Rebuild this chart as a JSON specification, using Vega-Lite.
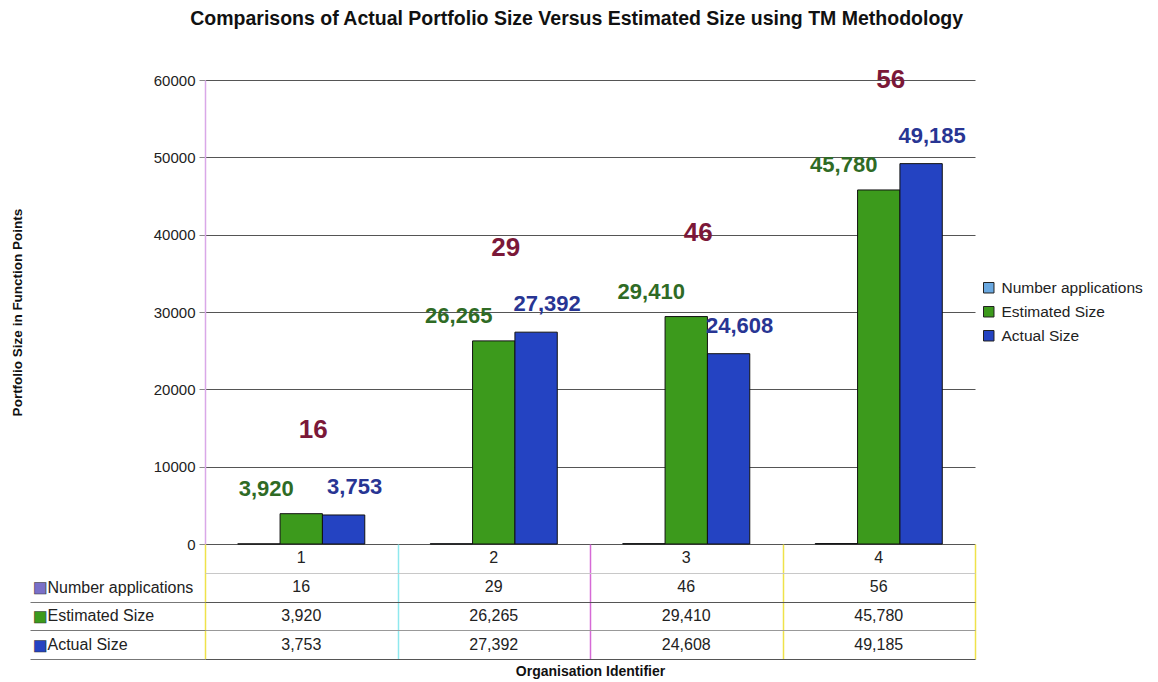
{
  "$schema": "https://vega.github.io/schema/vega-lite/v6.json",
  "background": "white",
  "padding": {"left": 10, "top": 9, "right": 5, "bottom": 2},
  "bounds": "flush",
  "title": {
    "text": "Comparisons of Actual Portfolio Size Versus Estimated Size using TM  Methodology",
    "font": "Liberation Sans Narrow, Liberation Sans",
    "fontSize": 19.5,
    "fontWeight": "bold",
    "color": "#111",
    "anchor": "middle",
    "offset": 37
  },
  "datasets": {
    "d": [
      {"org": "1", "series": "Number applications", "value": 16},
      {"org": "1", "series": "Estimated Size", "value": 3920},
      {"org": "1", "series": "Actual Size", "value": 3753},
      {"org": "2", "series": "Number applications", "value": 29},
      {"org": "2", "series": "Estimated Size", "value": 26265},
      {"org": "2", "series": "Actual Size", "value": 27392},
      {"org": "3", "series": "Number applications", "value": 46},
      {"org": "3", "series": "Estimated Size", "value": 29410},
      {"org": "3", "series": "Actual Size", "value": 24608},
      {"org": "4", "series": "Number applications", "value": 56},
      {"org": "4", "series": "Estimated Size", "value": 45780},
      {"org": "4", "series": "Actual Size", "value": 49185}
    ]
  },
  "spacing": 0,
  "resolve": {"scale": {"color": "independent", "x": "independent"}},
  "vconcat": [
    {
      "width": 770,
      "height": 464,
      "data": {"name": "d"},
      "layer": [
        {
          "mark": {"type": "bar", "stroke": "#111", "strokeWidth": 1},
          "encoding": {
            "x": {"field": "org", "type": "nominal", "axis": null, "scale": {"paddingInner": 0.34, "paddingOuter": 0.17}},
            "xOffset": {"field": "series", "type": "nominal", "scale": {"domain": ["Number applications", "Estimated Size", "Actual Size"]}},
            "y": {
              "field": "value", "type": "quantitative",
              "scale": {"domain": [0, 60000]},
              "axis": {
                "title": "Portfolio Size in Function Points",
                "titleFontSize": 13.5, "titleFontWeight": "bold", "titleColor": "#111", "titlePadding": 129,
                "values": [0, 10000, 20000, 30000, 40000, 50000, 60000],
                "format": "d",
                "labelFontSize": 15, "labelColor": "#222", "labelPadding": 4,
                "tickSize": 6, "tickColor": "#888",
                "grid": true, "gridColor": "#555", "gridWidth": 1,
                "domainColor": "#d9a8e8", "domainWidth": 1.5
              }
            },
            "color": {
              "field": "series", "type": "nominal",
              "scale": {"domain": ["Number applications", "Estimated Size", "Actual Size"], "range": ["#6aa8e0", "#3c9a1c", "#2443c2"]},
              "legend": {
                "title": null, "orient": "none", "legendX": 776, "legendY": 200,
                "labelFontSize": 15.5, "labelColor": "#222", "symbolType": "square", "symbolSize": 110,
                "symbolStrokeColor": "#222", "symbolStrokeWidth": 1, "rowPadding": 7, "labelOffset": 5
              }
            }
          }
        },
        {
          "transform": [{"filter": "datum.series === 'Estimated Size'"}],
          "mark": {"type": "text", "dx": -35, "dy": -25, "fontSize": 22, "fontWeight": "bold", "color": "#2f6b25"},
          "encoding": {
            "x": {"field": "org", "type": "nominal"},
            "xOffset": {"field": "series", "type": "nominal"},
            "y": {"field": "value", "type": "quantitative"},
            "text": {"field": "value", "type": "quantitative", "format": ",d"}
          }
        },
        {
          "transform": [{"filter": "datum.series === 'Actual Size'"}],
          "mark": {"type": "text", "dx": 11, "dy": -28, "fontSize": 22, "fontWeight": "bold", "color": "#283593"},
          "encoding": {
            "x": {"field": "org", "type": "nominal"},
            "xOffset": {"field": "series", "type": "nominal"},
            "y": {"field": "value", "type": "quantitative"},
            "text": {"field": "value", "type": "quantitative", "format": ",d"}
          }
        },
        {
          "transform": [
            {"joinaggregate": [{"op": "max", "field": "value", "as": "top"}], "groupby": ["org"]},
            {"filter": "datum.series === 'Number applications'"}
          ],
          "mark": {"type": "text", "dx": 12, "dy": -84, "fontSize": 26, "fontWeight": "bold", "color": "#7b1838"},
          "encoding": {
            "x": {"field": "org", "type": "nominal"},
            "y": {"field": "top", "type": "quantitative"},
            "text": {"field": "value", "type": "quantitative"}
          }
        }
      ]
    },
    {
      "width": 770,
      "height": 115,
      "data": {"name": "d"},
      "encoding": {
        "y": {
          "field": "series", "type": "nominal",
          "scale": {"domain": ["hdr", "Number applications", "Estimated Size", "Actual Size"], "paddingInner": 0, "paddingOuter": 0},
          "axis": {
            "title": null,
            "labelExpr": "datum.value === 'hdr' ? '' : datum.value",
            "labelAlign": "left", "labelPadding": -17, "labelFontSize": 16, "labelColor": "#222",
            "tickBand": "extent", "tickSize": 175,
            "tickColor": {"condition": {"test": "datum.value === 'hdr' || !datum.value", "value": "transparent"}, "value": "#777"},
            "grid": true,
            "gridColor": {"condition": [
              {"test": "datum.value === 'hdr'", "value": "#c8c8c8"},
              {"test": "datum.value === 'Estimated Size'", "value": "#999"},
              {"test": "!datum.value", "value": "transparent"}
            ], "value": "#555"},
            "domain": false
          }
        }
      },
      "layer": [
        {
          "mark": {"type": "text", "fontSize": 16, "color": "#222"},
          "encoding": {
            "x": {
              "field": "org", "type": "nominal",
              "scale": {"paddingInner": 0, "paddingOuter": 0},
              "axis": {
                "title": "Organisation Identifier", "titleFontSize": 14, "titleFontWeight": "bold", "titleColor": "#111", "titlePadding": 5,
                "labels": false, "ticks": false, "domain": false,
                "grid": true, "tickBand": "extent", "gridWidth": 1.5,
                "gridColor": {"condition": [
                  {"test": "datum.value === '1'", "value": "#8fe8ee"},
                  {"test": "datum.value === '2'", "value": "#d66ad6"}
                ], "value": "#efe24a"}
              }
            },
            "text": {"field": "value", "type": "quantitative", "format": ",d"}
          }
        },
        {
          "transform": [{"filter": "datum.series === 'Actual Size'"}],
          "mark": {"type": "text", "fontSize": 16, "color": "#222"},
          "encoding": {
            "x": {"field": "org", "type": "nominal"},
            "y": {"datum": "hdr"},
            "text": {"field": "org", "type": "nominal"}
          }
        },
        {
          "transform": [{"filter": "datum.org === '1'"}],
          "mark": {"type": "text", "text": "■", "font": "DejaVu Sans", "fontSize": 15, "dx": -550, "stroke": "#333", "strokeWidth": 0.6},
          "encoding": {
            "y": {"field": "series", "type": "nominal"},
            "color": {
              "field": "series", "type": "nominal",
              "scale": {"domain": ["Number applications", "Estimated Size", "Actual Size"], "range": ["#7a70c8", "#3c9a1c", "#2443c2"]},
              "legend": null
            }
          }
        }
      ]
    }
  ],
  "config": {
    "view": {"stroke": null},
    "font": "Liberation Sans",
    "concat": {"spacing": 0}
  }
}
